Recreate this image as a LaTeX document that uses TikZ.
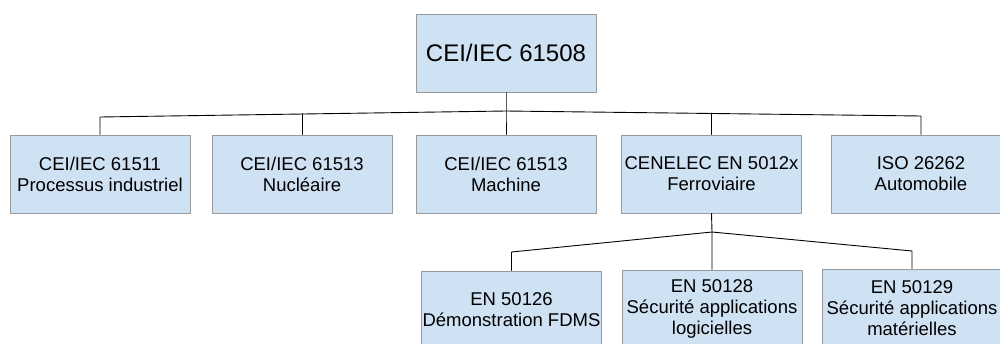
\documentclass[tikz,border=0pt]{standalone}
\usepackage{fontspec}
\setmainfont{Liberation Sans}
\definecolor{boxfill}{HTML}{CFE2F3}
\definecolor{boxline}{HTML}{999999}

\begin{document}
\begin{tikzpicture}[line cap=round,line join=round,x=1pt,y=-1pt,
  norme/.style={draw=boxline,fill=boxfill,line width=1pt,minimum width=180pt,minimum height=78pt,inner sep=0pt,align=center,font=\fontsize{18.5}{21}\selectfont},
  lien/.style={line width=0.9pt,black}]
\useasboundingbox (0,0) rectangle (1000,343);
\clip (0,0) rectangle (1000,343);

\node[norme,font=\fontsize{24}{28}\selectfont] (iec) at (506,53) {CEI/IEC 61508};

\node[norme] (proc) at (100,174) {CEI/IEC 61511\\Processus industriel};
\node[norme] (nucl) at (302,174) {CEI/IEC 61513\\Nucléaire};
\node[norme] (mach) at (506,174) {CEI/IEC 61513\\Machine};
\node[norme] (ferr) at (711.5,174) {CENELEC EN 5012x\\Ferroviaire};
\node[norme] (auto) at (921,174) {ISO 26262\\Automobile};

\node[norme] (demo) at (511.5,310) {EN 50126\\Démonstration FDMS};
\node[norme] (logi) at (712,309) {EN 50128\\Sécurité applications\\logicielles};
\node[norme] (mat) at (912,308) {EN 50129\\Sécurité applications\\matérielles};

\coordinate (j1) at (506,111);
\coordinate (a1) at (100,117);
\coordinate (a5) at (921,116);
\draw[lien] (iec.south) -- (j1) -- (mach.north);
\draw[lien] (proc.north) -- (a1) -- (j1) -- (a5) -- (auto.north);
\draw[lien] (nucl.north) -- ++(0,-21);
\draw[lien] (ferr.north) -- ++(0,-21.5);

\coordinate (j2) at (712,232);
\coordinate (b1) at (511.5,252);
\coordinate (b3) at (912,251);
\draw[lien] (ferr.south) -- (j2) -- (logi.north);
\draw[lien] (demo.north) -- (b1) -- (j2) -- (b3) -- (mat.north);
\end{tikzpicture}
\end{document}
